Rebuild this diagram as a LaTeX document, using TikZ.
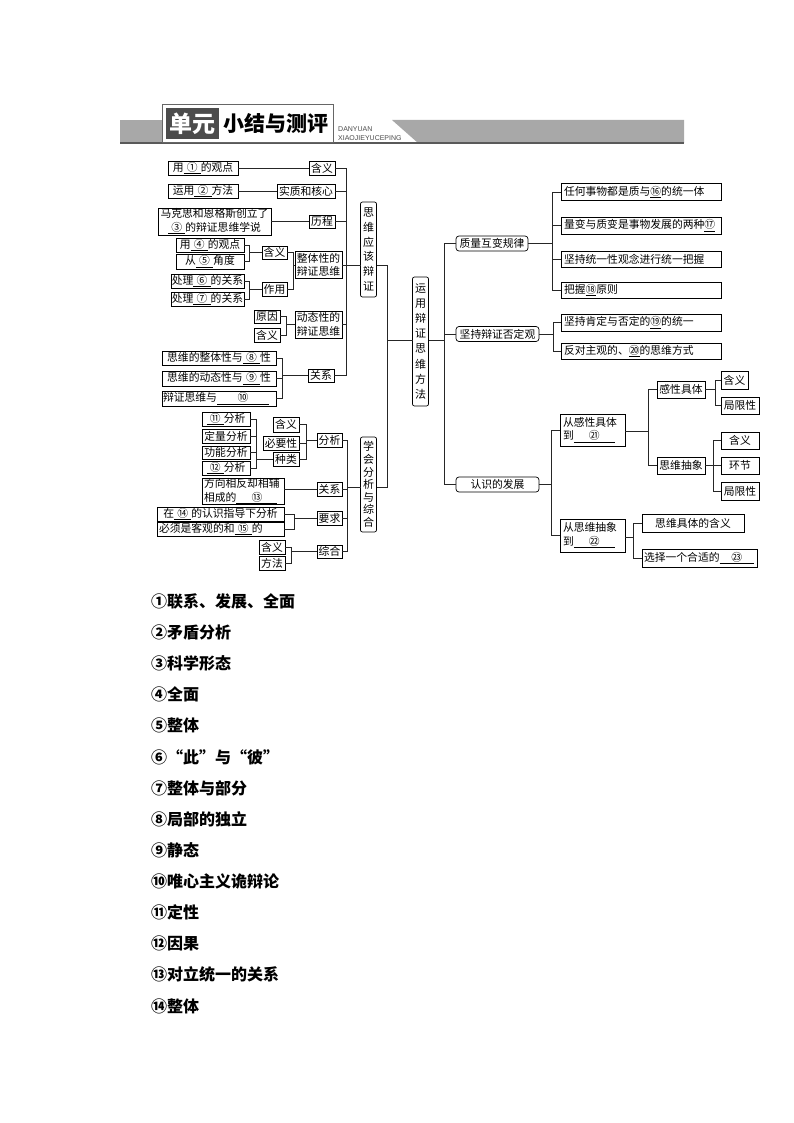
\documentclass[tikz,border=0pt]{standalone}
\usepackage{fontspec}
\setmainfont{Noto Sans CJK SC}
\setsansfont{Liberation Sans}
\usetikzlibrary{shapes,positioning}
\definecolor{bandgray}{gray}{0.66}
\tikzstyle{block} = [rectangle, draw, line width=.7pt, inner sep=0pt, outer sep=0pt, align=center, text centered, font=\fontsize{10.8}{13.3}\selectfont]
\tikzstyle{leftblock} = [block, align=left, inner xsep=3pt]
\tikzstyle{tallblock} = [block, rounded corners=2pt, font=\fontsize{11}{15.1}\selectfont, minimum width=16pt]
\tikzstyle{topic} = [block, rounded corners=3pt, minimum height=15pt]
\tikzstyle{line} = [draw, line width=.6pt, black!85]
\tikzstyle{answer} = [anchor=west, inner sep=0pt, font=\fontsize{16}{16}\selectfont\bfseries]
\newcommand{\blank}[1]{\underline{\hspace{.3em}#1\hspace{.3em}}}
\newcommand{\longblank}[2]{\underline{\hspace{#1}#2\hspace{#1}}}

\begin{document}
\begin{tikzpicture}[x=1pt, y=1pt]
    \useasboundingbox (0,0) rectangle (794,-1123);
    \fill [white] (0,0) rectangle (794,-1123);

    % Title band
    \fill [bandgray] (120,-120) rectangle (333,-143);
    \fill [bandgray] (392,-120) -- (684,-120) -- (684,-143) -- (418,-143) -- cycle;
    \fill [black!65] (120,-142.5) rectangle (684,-144);
    \node [draw=black!60, fill=white, line width=.8pt, minimum width=171pt, minimum height=38pt, inner sep=0pt] (titlebox) at (247.5,-123) {};
    \node [fill=black!70, text=white, minimum width=53pt, minimum height=31pt, inner sep=0pt, font=\fontsize{23}{23}\selectfont\bfseries] (titleleft) at (192.5,-123.5) {单元};
    \node [right of=titleleft, node distance=83pt, inner sep=0pt, font=\fontsize{21}{21}\selectfont\bfseries] (titleright) {小结与测评};
    \node [anchor=north west, inner sep=0pt, align=left, text=black!70, font=\sffamily\fontsize{7}{9.5}\selectfont] (titlesub) at (338,-126) {DANYUAN\\XIAOJIEYUCEPING};

    % Place nodes, left side
    \node [tallblock, minimum height=129pt] (main) at (420.5,-341.5) {运\\用\\辩\\证\\思\\维\\方\\法};
    \node [tallblock, minimum height=95pt, font=\fontsize{11}{14.8}\selectfont] (think) at (368.5,-249.5) {思\\维\\应\\该\\辩\\证};
    \node [tallblock, minimum height=95pt, font=\fontsize{11}{12.6}\selectfont] (learn) at (368.5,-484.5) {学\\会\\分\\析\\与\\综\\合};

    \node [block, minimum width=26pt, minimum height=14pt] (mean) at (322,-168) {含义};
    \node [block, minimum width=70pt, minimum height=14pt, left of=mean, node distance=119pt] (meantxt) {用\blank{①}的观点};
    \node [block, minimum width=58pt, minimum height=14pt] (core) at (306,-191) {实质和核心};
    \node [block, minimum width=70pt, minimum height=14pt, left of=core, node distance=103pt] (coretxt) {运用\blank{②}方法};
    \node [block, minimum width=26pt, minimum height=13pt] (course) at (322,-221.5) {历程};
    \node [block, minimum width=113pt, minimum height=27pt, left of=course, node distance=107.5pt] (coursetxt) {马克思和恩格斯创立了\\\blank{③}的辩证思维学说};

    \node [block, minimum width=47pt, minimum height=27pt] (whole) at (318.5,-265) {整体性的\\辩证思维};
    \node [block, minimum width=25pt, minimum height=13pt] (wholemean) at (274.5,-252.5) {含义};
    \node [block, minimum width=25pt, minimum height=14pt, below of=wholemean, node distance=36.5pt] (wholeuse) {作用};
    \node [block, minimum width=68pt, minimum height=14pt] (wholea) at (210,-245) {用\blank{④}的观点};
    \node [block, minimum width=68pt, minimum height=15pt, below of=wholea, node distance=16.5pt] (wholeb) {从\blank{⑤}角度};
    \node [block, minimum width=73pt, minimum height=14pt] (wholec) at (207.5,-281) {处理\blank{⑥}的关系};
    \node [block, minimum width=73pt, minimum height=14pt, below of=wholec, node distance=18pt] (wholed) {处理\blank{⑦}的关系};

    \node [block, minimum width=47pt, minimum height=27pt] (move) at (318.5,-324.5) {动态性的\\辩证思维};
    \node [block, minimum width=26pt, minimum height=13pt] (movecause) at (267,-316.5) {原因};
    \node [block, minimum width=26pt, minimum height=14pt, below of=movecause, node distance=18.5pt] (movemean) {含义};

    \node [block, minimum width=26pt, minimum height=13pt] (rel) at (321,-375.5) {关系};
    \node [block, minimum width=114pt, minimum height=14pt] (rela) at (219,-358) {思维的整体性与\blank{⑧}性};
    \node [block, minimum width=114pt, minimum height=15pt, below of=rela, node distance=20.5pt] (relb) {思维的动态性与\blank{⑨}性};
    \node [leftblock, inner xsep=1pt, text width=112pt, minimum height=15pt, below of=relb, node distance=20pt] (relc) {辩证思维与\longblank{1.9em}{⑩}};

    \node [block, minimum width=25pt, minimum height=14pt] (ana) at (329.5,-440) {分析};
    \node [block, minimum width=26pt, minimum height=15pt] (anamean) at (286,-424.5) {含义};
    \node [block, minimum width=36pt, minimum height=14pt] (ananeed) at (281,-443) {必要性};
    \node [block, minimum width=26pt, minimum height=14pt] (anakind) at (286,-459) {种类};
    \node [block, minimum width=48pt, minimum height=14pt] (kinda) at (226,-419) {\blank{⑪}分析};
    \node [block, minimum width=48pt, minimum height=14pt, below of=kinda, node distance=17pt] (kindb) {定量分析};
    \node [block, minimum width=48pt, minimum height=13pt, below of=kindb, node distance=16.5pt] (kindc) {功能分析};
    \node [block, minimum width=48pt, minimum height=14pt, below of=kindc, node distance=15.5pt] (kindd) {\blank{⑫}分析};

    \node [block, minimum width=25pt, minimum height=14pt] (link) at (329.5,-489) {关系};
    \node [leftblock, inner xsep=2pt, text width=78pt, minimum height=25pt] (linktxt) at (243,-491.5) {方向相反却相辅\\相成的\longblank{1.4em}{⑬}};
    \node [block, minimum width=25pt, minimum height=14pt] (need) at (329.5,-518) {要求};
    \node [block, minimum width=127pt, minimum height=14pt] (needa) at (220.5,-514) {在\blank{⑭}的认识指导下分析};
    \node [leftblock, inner xsep=2pt, text width=123pt, minimum height=14pt, below of=needa, node distance=15pt] (needb) {必须是客观的和\blank{⑮}的};
    \node [block, minimum width=25pt, minimum height=13pt] (syn) at (329.5,-551.5) {综合};
    \node [block, minimum width=26pt, minimum height=14pt] (synmean) at (272,-547) {含义};
    \node [block, minimum width=26pt, minimum height=14pt, below of=synmean, node distance=16pt] (synway) {方法};

    % Place nodes, right side
    \node [topic, minimum width=72pt] (quality) at (492,-243.5) {质量互变规律};
    \node [topic, minimum width=83pt] (negate) at (497.5,-334) {坚持辩证否定观};
    \node [topic, minimum width=83pt] (know) at (497.5,-484.5) {认识的发展};

    \node [leftblock, text width=154pt, minimum height=17pt] (qa) at (641,-192) {任何事物都是质与\underline{⑯}的统一体};
    \node [leftblock, text width=154pt, minimum height=17pt, below of=qa, node distance=33.5pt] (qb) {量变与质变是事物发展的两种\underline{⑰}};
    \node [leftblock, text width=154pt, minimum height=16pt, below of=qb, node distance=33.5pt] (qc) {坚持统一性观念进行统一把握};
    \node [leftblock, text width=154pt, minimum height=16pt, below of=qc, node distance=31pt] (qd) {把握\underline{⑱}原则};
    \node [leftblock, text width=154pt, minimum height=17pt, below of=qd, node distance=32.5pt] (na) {坚持肯定与否定的\underline{⑲}的统一};
    \node [leftblock, text width=154pt, minimum height=16pt, below of=na, node distance=28.5pt] (nb) {反对主观的、\underline{⑳}的思维方式};

    \node [leftblock, text width=59pt, minimum height=32pt] (sense) at (592.5,-430) {从感性具体\\到\longblank{1.4em}{㉑}};
    \node [leftblock, text width=59pt, minimum height=33pt] (abstract) at (592.5,-535.5) {从思维抽象\\到\longblank{1.4em}{㉒}};
    \node [block, minimum width=48pt, minimum height=17pt] (sensek) at (681,-389.5) {感性具体};
    \node [block, minimum width=48pt, minimum height=17pt] (thinkk) at (681,-465.5) {思维抽象};
    \node [block, minimum width=27pt, minimum height=18pt] (skmean) at (734.5,-380) {含义};
    \node [block, minimum width=38pt, minimum height=17pt] (sklimit) at (740,-405.5) {局限性};
    \node [block, minimum width=38pt, minimum height=17pt] (tkmean) at (740,-440.5) {含义};
    \node [block, minimum width=38pt, minimum height=17pt, below of=tkmean, node distance=25pt] (tkstep) {环节};
    \node [block, minimum width=38pt, minimum height=18pt, below of=tkstep, node distance=25.5pt] (tklimit) {局限性};
    \node [block, minimum width=102pt, minimum height=18pt] (absmean) at (693,-523) {思维具体的含义};
    \node [leftblock, inner xsep=2pt, text width=111pt, minimum height=18pt] (abschoose) at (699.5,-558) {选择一个合适的\longblank{1.1em}{㉓}};

    % Answers
    \node [answer] (ans1) at (151,-601) {①联系、发展、全面};
    \node [answer, below=31pt of ans1.west, anchor=west] (ans2) {②矛盾分析};
    \node [answer, below=31pt of ans2.west, anchor=west] (ans3) {③科学形态};
    \node [answer, below=31pt of ans3.west, anchor=west] (ans4) {④全面};
    \node [answer, below=31pt of ans4.west, anchor=west] (ans5) {⑤整体};
    \node [answer, below=32pt of ans5.west, anchor=west] (ans6) {⑥“此”与“彼”};
    \node [answer, below=31pt of ans6.west, anchor=west] (ans7) {⑦整体与部分};
    \node [answer, below=31pt of ans7.west, anchor=west] (ans8) {⑧局部的独立};
    \node [answer, below=31pt of ans8.west, anchor=west] (ans9) {⑨静态};
    \node [answer, below=31pt of ans9.west, anchor=west] (ans10) {⑩唯心主义诡辩论};
    \node [answer, below=31pt of ans10.west, anchor=west] (ans11) {⑪定性};
    \node [answer, below=31pt of ans11.west, anchor=west] (ans12) {⑫因果};
    \node [answer, below=31pt of ans12.west, anchor=west] (ans13) {⑬对立统一的关系};
    \node [answer, below=32pt of ans13.west, anchor=west] (ans14) {⑭整体};

    % Bus points
    \coordinate (busmain) at (387,-340);
    \coordinate (busthink) at (346,-265);
    \coordinate (buslearn) at (347,-487);
    \coordinate (buswhole) at (293,-265);
    \coordinate (buswa) at (249,-252.5);
    \coordinate (buswb) at (249,-289);
    \coordinate (busmove) at (286,-324.5);
    \coordinate (busrel) at (282,-375.5);
    \coordinate (busana) at (306,-440);
    \coordinate (buskind) at (256,-459);
    \coordinate (busneed) at (294,-518);
    \coordinate (bussyn) at (291,-551.5);
    \coordinate (busright) at (444,-340);
    \coordinate (busq) at (552,-243.5);
    \coordinate (busn) at (553,-334);
    \coordinate (busk) at (551,-484.5);
    \coordinate (bussense) at (648,-431);
    \coordinate (busabs) at (633,-537);
    \coordinate (bussk) at (715,-389.5);
    \coordinate (bustk) at (713,-465.5);

    % Draw edges
    \path [line] (main.west |- busmain) -- (busmain);
    \path [line] (busmain) |- (think.east |- busthink);
    \path [line] (busmain) |- (learn.east |- buslearn);
    \path [line] (think.west |- busthink) -- (busthink);
    \path [line] (busthink) |- (mean.east);
    \path [line] (busthink) |- (core.east);
    \path [line] (busthink) |- (course.east);
    \path [line] (busthink) -- (whole.east);
    \path [line] (busthink) |- (move.east);
    \path [line] (busthink) |- (rel.east);
    \path [line] (mean.west) -- (meantxt.east);
    \path [line] (core.west) -- (coretxt.east);
    \path [line] (course.west) -- (coursetxt.east);
    \path [line] (whole.west) -- (buswhole);
    \path [line] (buswhole) |- (wholemean.east);
    \path [line] (buswhole) |- (wholeuse.east);
    \path [line] (wholemean.west) -- (buswa);
    \path [line] (buswa) |- (wholea.east);
    \path [line] (buswa) |- (wholeb.east);
    \path [line] (wholeuse.west) -- (buswb);
    \path [line] (buswb) |- (wholec.east);
    \path [line] (buswb) |- (wholed.east);
    \path [line] (move.west) -- (busmove);
    \path [line] (busmove) |- (movecause.east);
    \path [line] (busmove) |- (movemean.east);
    \path [line] (rel.west) -- (busrel);
    \path [line] (busrel) |- (rela.east);
    \path [line] (busrel) |- (relb.east);
    \path [line] (busrel) |- (relc.east);

    \path [line] (learn.west |- buslearn) -- (buslearn);
    \path [line] (buslearn) |- (ana.east);
    \path [line] (buslearn) |- (link.east);
    \path [line] (buslearn) |- (need.east);
    \path [line] (buslearn) |- (syn.east);
    \path [line] (ana.west) -- (busana);
    \path [line] (busana) |- (anamean.east);
    \path [line] (busana) |- (ananeed.east);
    \path [line] (busana) |- (anakind.east);
    \path [line] (anakind.west) -- (buskind);
    \path [line] (buskind) |- (kinda.east);
    \path [line] (buskind) |- (kindb.east);
    \path [line] (buskind) |- (kindc.east);
    \path [line] (buskind) |- (kindd.east);
    \path [line] (link.west) -- (link.west -| linktxt.east);
    \path [line] (need.west) -- (busneed);
    \path [line] (busneed) |- (needa.east);
    \path [line] (busneed) |- (needb.east);
    \path [line] (syn.west) -- (bussyn);
    \path [line] (bussyn) |- (synmean.east);
    \path [line] (bussyn) |- (synway.east);

    \path [line] (main.east |- busright) -- (busright);
    \path [line] (busright) |- (quality.west);
    \path [line] (busright) |- (negate.west);
    \path [line] (busright) |- (know.west);
    \path [line] (quality.east) -- (busq);
    \path [line] (busq) |- (qa.west);
    \path [line] (busq) |- (qb.west);
    \path [line] (busq) |- (qc.west);
    \path [line] (busq) |- (qd.west);
    \path [line] (negate.east) -- (busn);
    \path [line] (busn) |- (na.west);
    \path [line] (busn) |- (nb.west);
    \path [line] (know.east) -- (busk);
    \path [line] (busk) |- (sense.west);
    \path [line] (busk) |- (abstract.west);
    \path [line] (sense.east |- bussense) -- (bussense);
    \path [line] (bussense) |- (sensek.west);
    \path [line] (bussense) |- (thinkk.west);
    \path [line] (sensek.east) -- (bussk);
    \path [line] (bussk) |- (skmean.west);
    \path [line] (bussk) |- (sklimit.west);
    \path [line] (thinkk.east) -- (bustk);
    \path [line] (bustk) |- (tkmean.west);
    \path [line] (bustk) |- (tkstep.west);
    \path [line] (bustk) |- (tklimit.west);
    \path [line] (abstract.east |- busabs) -- (busabs);
    \path [line] (busabs) |- (absmean.west);
    \path [line] (busabs) |- (abschoose.west);

\end{tikzpicture}
\end{document}
